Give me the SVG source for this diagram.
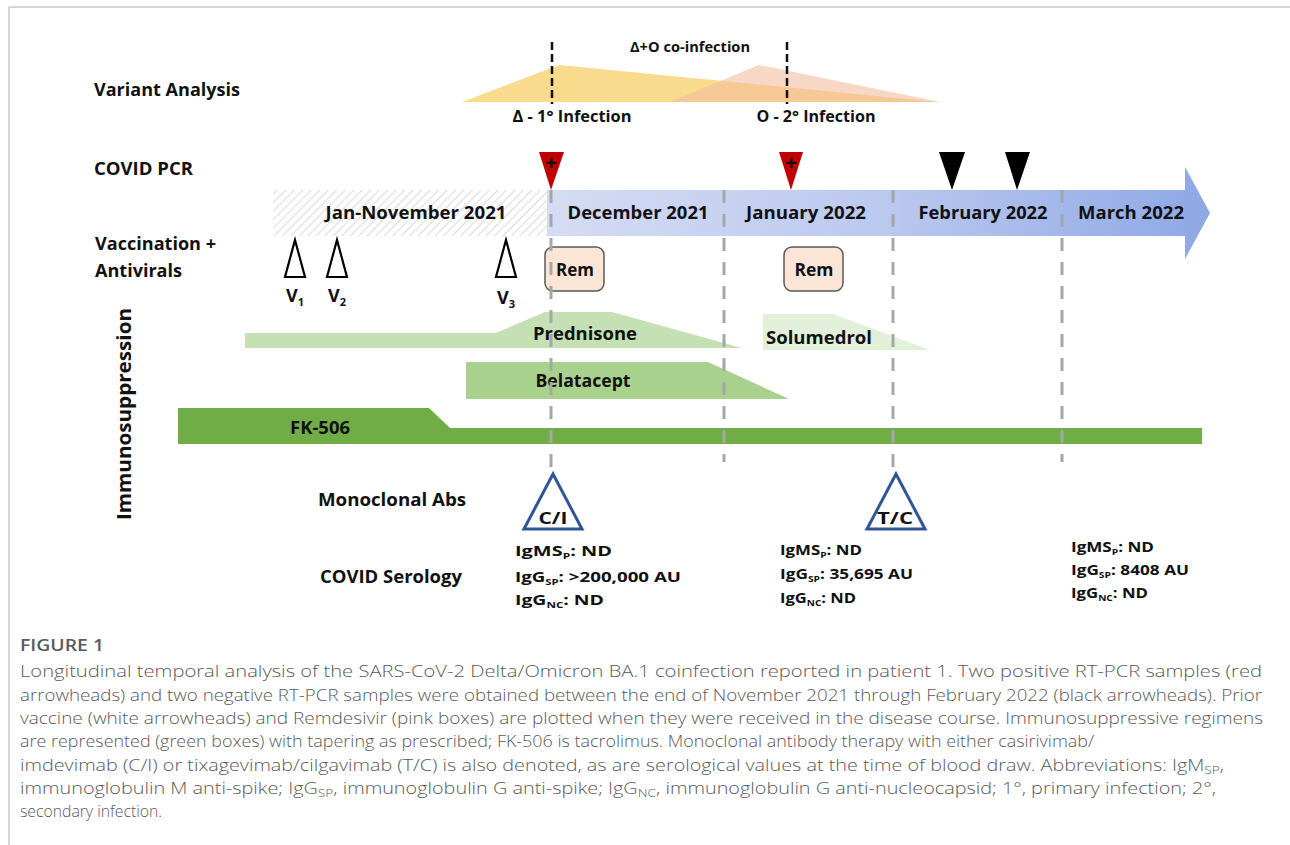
<svg xmlns="http://www.w3.org/2000/svg" width="1290" height="845" viewBox="0 0 1290 845">
<defs>
<pattern id="hatch" patternUnits="userSpaceOnUse" width="6" height="6" patternTransform="rotate(45)">
<rect width="6" height="6" fill="#ffffff"/>
<line x1="0" y1="0" x2="0" y2="6" stroke="#d2d2d2" stroke-width="1.6"/>
</pattern>
<linearGradient id="blue" gradientUnits="userSpaceOnUse" x1="547" y1="0" x2="1210" y2="0">
<stop offset="0" stop-color="#d5dcf3"/>
<stop offset="0.5" stop-color="#bcc9ef"/>
<stop offset="1" stop-color="#8ea8e5"/>
</linearGradient>
<style>
.lbl{font-family:"Open Sans","Liberation Sans",sans-serif;font-weight:700;fill:#111;}
.cap{font-family:"Open Sans","Noto Sans",sans-serif;font-weight:300;fill:#5a5a5a;}
.plus{font-family:"Liberation Sans",sans-serif;font-weight:700;fill:#111;}
.guide{stroke:#a6a6a6;stroke-width:3;stroke-dasharray:13 11;fill:none;}
.vline{stroke:#111;stroke-width:2.5;stroke-dasharray:8 4;fill:none;}
.vacc{fill:#ffffff;stroke:#000;stroke-width:2.2;}
.rem{fill:#fbe5d6;stroke:#595959;stroke-width:1.5;}
.mab{fill:#ffffff;stroke:#2f5597;stroke-width:3;}
</style>
</defs>

<rect width="1290" height="845" fill="#ffffff"/>
<g id="frame">
<line x1="9" y1="7" x2="1290" y2="7" stroke="#c8c8c8" stroke-width="1.5"/>
<line x1="9" y1="7" x2="9" y2="845" stroke="#c8c8c8" stroke-width="1.5"/>
</g>

<g id="row-labels">
<text class="lbl" x="94" y="96" font-size="18" textLength="146" lengthAdjust="spacingAndGlyphs">Variant Analysis</text>
<text class="lbl" x="94" y="175" font-size="18" textLength="99" lengthAdjust="spacingAndGlyphs">COVID PCR</text>
<text class="lbl" x="95" y="250" font-size="18" textLength="121" lengthAdjust="spacingAndGlyphs">Vaccination +</text>
<text class="lbl" x="95" y="277" font-size="18" textLength="87" lengthAdjust="spacingAndGlyphs">Antivirals</text>
<text class="lbl" transform="translate(131,414) rotate(-90)" text-anchor="middle" font-size="19" textLength="212" lengthAdjust="spacingAndGlyphs">Immunosuppression</text>
<text class="lbl" x="318" y="506" font-size="18" textLength="148" lengthAdjust="spacingAndGlyphs">Monoclonal Abs</text>
<text class="lbl" x="320" y="583" font-size="18" textLength="142" lengthAdjust="spacingAndGlyphs">COVID Serology</text>
</g>

<g id="variant-analysis">
<polygon points="462,102 559,65 937,102" fill="#f9db8d"/>
<polygon points="670,102 759,65 940,102" fill="#f1ba9d" fill-opacity="0.58"/>
<line class="vline" x1="552" y1="42" x2="552" y2="104"/>
<line class="vline" x1="787" y1="42" x2="787" y2="104"/>
<text class="lbl" x="690" y="52" font-size="14" text-anchor="middle" textLength="120" lengthAdjust="spacingAndGlyphs">Δ+O co-infection</text>
<text class="lbl" x="572" y="122" font-size="16" text-anchor="middle" textLength="119" lengthAdjust="spacingAndGlyphs">Δ - 1° Infection</text>
<text class="lbl" x="816" y="122" font-size="16" text-anchor="middle" textLength="119" lengthAdjust="spacingAndGlyphs">O - 2° Infection</text>
</g>

<g id="timeline">
<rect x="273" y="190" width="274" height="46" fill="url(#hatch)"/>
<polygon points="547,190 1185,190 1185,167 1210,213 1185,259 1185,236 547,236" fill="url(#blue)"/>
<text class="lbl" x="416" y="219" font-size="17" text-anchor="middle" textLength="181" lengthAdjust="spacingAndGlyphs">Jan-November 2021</text>
<text class="lbl" x="638" y="219" font-size="17" text-anchor="middle" textLength="141" lengthAdjust="spacingAndGlyphs">December 2021</text>
<text class="lbl" x="806" y="219" font-size="17" text-anchor="middle" textLength="120" lengthAdjust="spacingAndGlyphs">January 2022</text>
<text class="lbl" x="983" y="219" font-size="17" text-anchor="middle" textLength="129" lengthAdjust="spacingAndGlyphs">February 2022</text>
<text class="lbl" x="1131" y="219" font-size="17" text-anchor="middle" textLength="106" lengthAdjust="spacingAndGlyphs">March 2022</text>
</g>

<g id="pcr">
<g id="pcr-pos-1">
<polygon points="539,152 564,152 551,190" fill="#c00000"/>
<text class="plus" x="551" y="170" font-size="20" text-anchor="middle">+</text>
</g>
<g id="pcr-pos-2">
<polygon points="779,152 803,152 791,190" fill="#c00000"/>
<text class="plus" x="791" y="170" font-size="20" text-anchor="middle">+</text>
</g>
<polygon id="pcr-neg-1" points="939,152 965,152 952,190" fill="#000"/>
<polygon id="pcr-neg-2" points="1005,152 1030,152 1017,190" fill="#000"/>
</g>

<g id="vaccines">
<g id="v1">
<polygon class="vacc" points="295,240 305,277 285,277"/>
<text class="lbl" x="286" y="302" font-size="18">V<tspan font-size="11" dy="4">1</tspan></text>
</g>
<g id="v2">
<polygon class="vacc" points="337,240 347,277 327,277"/>
<text class="lbl" x="328" y="302" font-size="18">V<tspan font-size="11" dy="4">2</tspan></text>
</g>
<g id="v3">
<polygon class="vacc" points="506,240 516,277 496,277"/>
<text class="lbl" x="497" y="304" font-size="18">V<tspan font-size="11" dy="4">3</tspan></text>
</g>
</g>

<g id="remdesivir">
<g id="rem-1">
<rect class="rem" x="545" y="247" width="59" height="44" rx="8"/>
<text class="lbl" x="575" y="276" font-size="17" text-anchor="middle" textLength="38" lengthAdjust="spacingAndGlyphs">Rem</text>
</g>
<g id="rem-2">
<rect class="rem" x="784" y="247" width="59" height="44" rx="8"/>
<text class="lbl" x="814" y="276" font-size="17" text-anchor="middle" textLength="39" lengthAdjust="spacingAndGlyphs">Rem</text>
</g>
</g>

<g id="immunosuppression">
<g id="prednisone">
<polygon points="245,333 496,333 545,312 612,312 742,348 245,348" fill="#c5e0b4"/>
<text class="lbl" x="585" y="340" font-size="17" text-anchor="middle" textLength="104" lengthAdjust="spacingAndGlyphs">Prednisone</text>
</g>
<g id="solumedrol">
<polygon points="763,314 833,314 930,350 763,350" fill="#e2f0d9"/>
<text class="lbl" x="766" y="344" font-size="17" textLength="106" lengthAdjust="spacingAndGlyphs">Solumedrol</text>
</g>
<g id="belatacept">
<polygon points="466,362 708,362 789,399 466,399" fill="#a9d18e"/>
<text class="lbl" x="583" y="387" font-size="17" text-anchor="middle" textLength="95" lengthAdjust="spacingAndGlyphs">Belatacept</text>
</g>
<g id="fk506">
<polygon points="178,408 429,408 450,428 1202,428 1202,444 178,444" fill="#70ad47"/>
<text class="lbl" x="320" y="434" font-size="17" text-anchor="middle" textLength="60" lengthAdjust="spacingAndGlyphs">FK-506</text>
</g>
</g>

<g id="connectors">
<line class="guide" x1="551" y1="190" x2="551" y2="468"/>
<line class="guide" x1="724" y1="190" x2="724" y2="462"/>
<line class="guide" x1="893" y1="190" x2="893" y2="468"/>
<line class="guide" x1="1062" y1="190" x2="1062" y2="462"/>
</g>

<g id="monoclonal">
<g id="mab-ci">
<polygon class="mab" points="553,474 582,529 524,529"/>
<text class="lbl" x="553" y="524" font-size="16" text-anchor="middle" textLength="29" lengthAdjust="spacingAndGlyphs">C/I</text>
</g>
<g id="mab-tc">
<polygon class="mab" points="896,474 925,529 867,529"/>
<text class="lbl" x="895" y="524" font-size="16" text-anchor="middle" textLength="36" lengthAdjust="spacingAndGlyphs">T/C</text>
</g>
</g>

<g id="serology">
<g id="sero-1">
<text class="lbl" x="515" y="556" font-size="15" textLength="97" lengthAdjust="spacingAndGlyphs">IgMS<tspan font-size="9" dy="3">P</tspan><tspan dy="-3">: ND</tspan></text>
<text class="lbl" x="515" y="582" font-size="15" textLength="166" lengthAdjust="spacingAndGlyphs">IgG<tspan font-size="9" dy="3">SP</tspan><tspan dy="-3">: &gt;200,000 AU</tspan></text>
<text class="lbl" x="515" y="605" font-size="15" textLength="89" lengthAdjust="spacingAndGlyphs">IgG<tspan font-size="9" dy="3">NC</tspan><tspan dy="-3">: ND</tspan></text>
</g>
<g id="sero-2">
<text class="lbl" x="780" y="555" font-size="15" textLength="82" lengthAdjust="spacingAndGlyphs">IgMS<tspan font-size="9" dy="3">P</tspan><tspan dy="-3">: ND</tspan></text>
<text class="lbl" x="780" y="579" font-size="15" textLength="133" lengthAdjust="spacingAndGlyphs">IgG<tspan font-size="9" dy="3">SP</tspan><tspan dy="-3">: 35,695 AU</tspan></text>
<text class="lbl" x="780" y="603" font-size="15" textLength="76" lengthAdjust="spacingAndGlyphs">IgG<tspan font-size="9" dy="3">NC</tspan><tspan dy="-3">: ND</tspan></text>
</g>
<g id="sero-3">
<text class="lbl" x="1071" y="552" font-size="15" textLength="83" lengthAdjust="spacingAndGlyphs">IgMS<tspan font-size="9" dy="3">P</tspan><tspan dy="-3">: ND</tspan></text>
<text class="lbl" x="1071" y="575" font-size="15" textLength="118" lengthAdjust="spacingAndGlyphs">IgG<tspan font-size="9" dy="3">SP</tspan><tspan dy="-3">: 8408 AU</tspan></text>
<text class="lbl" x="1071" y="598" font-size="15" textLength="77" lengthAdjust="spacingAndGlyphs">IgG<tspan font-size="9" dy="3">NC</tspan><tspan dy="-3">: ND</tspan></text>
</g>
</g>

<g id="caption" font-size="16">
<text x="20" y="651" font-family="'Open Sans',sans-serif" font-weight="600" font-size="16" fill="#5a5a5a" textLength="84" lengthAdjust="spacingAndGlyphs">FIGURE 1</text>
<text class="cap" x="20" y="677" textLength="1242" lengthAdjust="spacingAndGlyphs">Longitudinal temporal analysis of the SARS-CoV-2 Delta/Omicron BA.1 coinfection reported in patient 1. Two positive RT-PCR samples (red</text>
<text class="cap" x="20" y="701" textLength="1242" lengthAdjust="spacingAndGlyphs">arrowheads) and two negative RT-PCR samples were obtained between the end of November 2021 through February 2022 (black arrowheads). Prior</text>
<text class="cap" x="20" y="724" textLength="1243" lengthAdjust="spacingAndGlyphs">vaccine (white arrowheads) and Remdesivir (pink boxes) are plotted when they were received in the disease course. Immunosuppressive regimens</text>
<text class="cap" x="20" y="747" textLength="1074" lengthAdjust="spacingAndGlyphs">are represented (green boxes) with tapering as prescribed; FK-506 is tacrolimus. Monoclonal antibody therapy with either casirivimab/</text>
<text class="cap" x="20" y="771" textLength="1204" lengthAdjust="spacingAndGlyphs">imdevimab (C/I) or tixagevimab/cilgavimab (T/C) is also denoted, as are serological values at the time of blood draw. Abbreviations: IgM<tspan font-size="11" dy="3">SP</tspan><tspan dy="-3">,</tspan></text>
<text class="cap" x="20" y="794" textLength="1196" lengthAdjust="spacingAndGlyphs">immunoglobulin M anti-spike; IgG<tspan font-size="11" dy="3">SP</tspan><tspan dy="-3">, immunoglobulin G anti-spike; IgG</tspan><tspan font-size="11" dy="3">NC</tspan><tspan dy="-3">, immunoglobulin G anti-nucleocapsid; 1°, primary infection; 2°,</tspan></text>
<text class="cap" x="20" y="817" textLength="142" lengthAdjust="spacingAndGlyphs">secondary infection.</text>
</g>
</svg>
